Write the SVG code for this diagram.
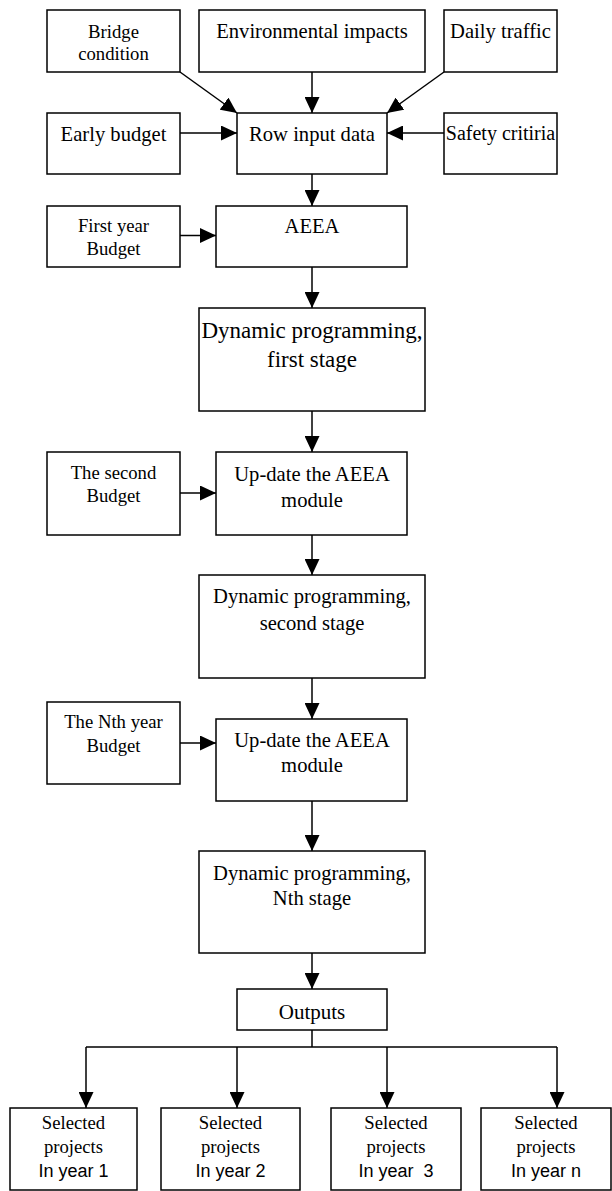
<svg xmlns="http://www.w3.org/2000/svg" width="612" height="1191" viewBox="0 0 612 1191">
<style>
.box{fill:#fff;stroke:#000;stroke-width:1.5}
.t{font-family:"Liberation Serif","Times New Roman",serif;fill:#000;text-anchor:middle}
.s{font-size:18.7px}
.m{font-size:20.6px}
.l{font-size:23px}
.a{font-family:"Liberation Sans",Arial,sans-serif;font-size:18px;fill:#000;text-anchor:middle}
.c{fill:none;stroke:#000;stroke-width:1.5}
</style>
<defs>
<marker id="ah" viewBox="0 0 16 15" refX="16" refY="7.5" markerWidth="16" markerHeight="15" markerUnits="userSpaceOnUse" orient="auto">
<path d="M0,0 L16,7.5 L0,15 z" fill="#000"/>
</marker>
</defs>
<rect width="612" height="1191" fill="#fff"/>
<g id="connectors">
<path class="c" d="M312,72 V113" marker-end="url(#ah)"/>
<path class="c" d="M180,72 L237,113" marker-end="url(#ah)"/>
<path class="c" d="M444,72 L387,113" marker-end="url(#ah)"/>
<path class="c" d="M180,133 H237" marker-end="url(#ah)"/>
<path class="c" d="M444,133 H387" marker-end="url(#ah)"/>
<path class="c" d="M312,174 V206" marker-end="url(#ah)"/>
<path class="c" d="M180,235.5 H216" marker-end="url(#ah)"/>
<path class="c" d="M312,267 V308" marker-end="url(#ah)"/>
<path class="c" d="M312,411 V452" marker-end="url(#ah)"/>
<path class="c" d="M180,493 H216" marker-end="url(#ah)"/>
<path class="c" d="M312,535 V575" marker-end="url(#ah)"/>
<path class="c" d="M312,678 V719" marker-end="url(#ah)"/>
<path class="c" d="M180,743 H216" marker-end="url(#ah)"/>
<path class="c" d="M312,801 V851" marker-end="url(#ah)"/>
<path class="c" d="M312,953 V989" marker-end="url(#ah)"/>
<path class="c" d="M312,1030 V1047 M86,1047 H557"/>
<path class="c" d="M86,1047 V1108" marker-end="url(#ah)"/>
<path class="c" d="M237,1047 V1108" marker-end="url(#ah)"/>
<path class="c" d="M387,1047 V1108" marker-end="url(#ah)"/>
<path class="c" d="M557,1047 V1108" marker-end="url(#ah)"/>
</g>
<g id="bridge"><rect class="box" x="47" y="10" width="133" height="62"/><text class="t s" x="113.5" y="38.3">Bridge</text><text class="t s" x="113.5" y="60">condition</text></g>
<g id="env"><rect class="box" x="199" y="10" width="226" height="62"/><text class="t m" x="312" y="38.3">Environmental impacts</text></g>
<g id="daily"><rect class="box" x="444" y="10" width="113" height="62"/><text class="t m" x="500.5" y="38.3">Daily traffic</text></g>
<g id="early"><rect class="box" x="47" y="113" width="133" height="61"/><text class="t m" x="113.5" y="140.7">Early budget</text></g>
<g id="row"><rect class="box" x="237" y="113" width="150" height="61"/><text class="t m" x="312" y="140.7">Row input data</text></g>
<g id="safety"><rect class="box" x="444" y="113" width="113" height="61"/><text class="t" style="font-size:20px" x="500.5" y="139.5">Safety critiria</text></g>
<g id="firstyear"><rect class="box" x="47" y="206" width="133" height="61"/><text class="t s" x="113.5" y="231.7">First year</text><text class="t s" x="113.5" y="255">Budget</text></g>
<g id="aeea"><rect class="box" x="216" y="206" width="191" height="61"/><text class="t m" x="312" y="233.3">AEEA</text></g>
<g id="dp1"><rect class="box" x="199" y="308" width="226" height="103"/><text class="t l" x="312" y="338.3">Dynamic programming,</text><text class="t l" x="312" y="367">first stage</text></g>
<g id="second"><rect class="box" x="47" y="452" width="133" height="83"/><text class="t s" x="113.5" y="479.3">The second</text><text class="t s" x="113.5" y="501.7">Budget</text></g>
<g id="update1"><rect class="box" x="216" y="452" width="191" height="83"/><text class="t m" x="312" y="481">Up-date the AEEA</text><text class="t m" x="312" y="506.7">module</text></g>
<g id="dp2"><rect class="box" x="199" y="575" width="226" height="103"/><text class="t m" x="312" y="603.3">Dynamic programming,</text><text class="t m" x="312" y="630">second stage</text></g>
<g id="nth"><rect class="box" x="47" y="702" width="133" height="82"/><text class="t s" x="113.5" y="728.3">The Nth year</text><text class="t s" x="113.5" y="751.7">Budget</text></g>
<g id="update2"><rect class="box" x="216" y="719" width="191" height="82"/><text class="t m" x="312" y="746.7">Up-date the AEEA</text><text class="t m" x="312" y="771.7">module</text></g>
<g id="dp3"><rect class="box" x="199" y="851" width="226" height="102"/><text class="t m" x="312" y="880">Dynamic programming,</text><text class="t m" x="312" y="905">Nth stage</text></g>
<g id="outputs"><rect class="box" x="237" y="989" width="150" height="41"/><text class="t" style="font-size:21px" x="312" y="1019.3">Outputs</text></g>
<g id="sel1"><rect class="box" x="10" y="1108" width="127" height="82"/><text class="t s" x="73.5" y="1129.3">Selected</text><text class="t s" x="73.5" y="1153">projects</text><text class="a" x="73.5" y="1177.3">In year 1</text></g>
<g id="sel2"><rect class="box" x="161" y="1108" width="139" height="82"/><text class="t s" x="230.5" y="1129.3">Selected</text><text class="t s" x="230.5" y="1153">projects</text><text class="a" x="230.5" y="1177.3">In year 2</text></g>
<g id="sel3"><rect class="box" x="331" y="1108" width="130" height="82"/><text class="t s" x="396" y="1129.3">Selected</text><text class="t s" x="396" y="1153">projects</text><text class="a" x="396" y="1177.3" xml:space="preserve">In year  3</text></g>
<g id="seln"><rect class="box" x="481" y="1108" width="130" height="82"/><text class="t s" x="546" y="1129.3">Selected</text><text class="t s" x="546" y="1153">projects</text><text class="a" x="546" y="1177.3">In year n</text></g>
</svg>
